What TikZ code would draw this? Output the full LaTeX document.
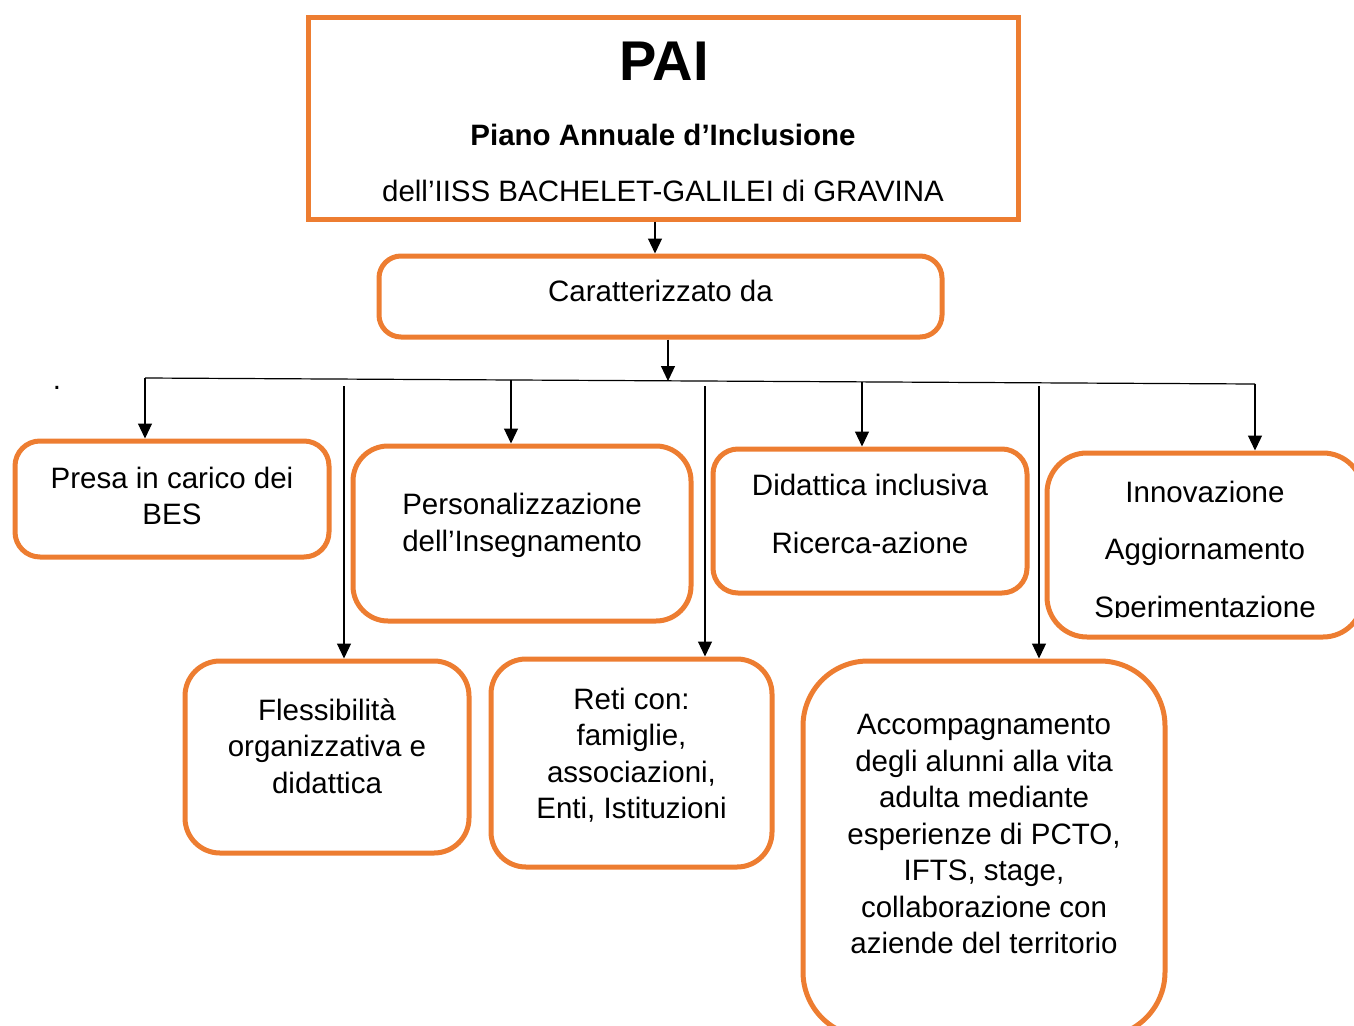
\documentclass[tikz,border=0pt]{standalone}
\usepackage{fontspec}
\setmainfont{Liberation Sans}
\usetikzlibrary{arrows.meta}
\definecolor{paiorange}{RGB}{237,125,49}
\tikzstyle{box}=[draw=paiorange, line width=5pt, rounded corners=25pt, inner sep=0pt]
\tikzstyle{txt}=[align=center, inner sep=0pt, font=\fontsize{29.5}{36.5}\selectfont]
\tikzstyle{link}=[line width=1.2pt, -{Triangle[length=15pt,width=14pt]}]

\begin{document}
\begin{tikzpicture}[x=1pt, y=-1pt]
  \clip (0,0) rectangle (1354,1025);
  % title
  \node[box, rounded corners=0pt, minimum width=710pt, minimum height=201pt] (pai) at (663,118.5) {};
  \node[anchor=base, inner sep=0pt, font=\fontsize{56}{64}\selectfont\bfseries] (painame) at (664,81) {PAI};
  \node[anchor=base, txt, font=\fontsize{29.5}{36}\selectfont\bfseries] (paifull) at (663,145) {Piano Annuale d’Inclusione};
  \node[anchor=base, txt] (paischool) at (663,201) {dell’IISS BACHELET-GALILEI di GRAVINA};
  \node[box, rounded corners=22pt, minimum width=563pt, minimum height=81pt] (carat) at (660.5,296.5) {};
  \node[txt] (carattext) at (660.5,290.5) {Caratterizzato da};
  \node[anchor=base, txt] (dot) at (57,389) {.};
  % boxes
  \node[box, minimum width=314pt, minimum height=116pt] (presa) at (172,499) {};
  \node[txt] (presatext) at (172,496) {Presa in carico dei\\BES};
  \node[box, rounded corners=35pt, minimum width=338pt, minimum height=175pt] (pers) at (522,533.5) {};
  \node[txt] (perstext) at (522,525.5) {Personalizzazione\\dell’Insegnamento};
  \node[box, minimum width=314pt, minimum height=144pt] (did) at (870,521) {};
  \node[txt] (didtext) at (870,514) {Didattica inclusiva\\[22pt]Ricerca-azione};
  \node[box, rounded corners=40pt, minimum width=316pt, minimum height=184pt] (inn) at (1205,545) {};
  \begin{scope}
    \clip (1050,455) rectangle (1354,617);
    \node[txt] (inntext) at (1205,552) {Innovazione\\[21pt]Aggiornamento\\[21pt]Sperimentazione};
  \end{scope}
  \node[box, rounded corners=35pt, minimum width=284pt, minimum height=192pt] (fles) at (327,757) {};
  \node[txt] (flestext) at (327,746) {Flessibilità\\organizzativa e\\didattica};
  \node[box, rounded corners=35pt, minimum width=281pt, minimum height=208pt] (reti) at (631.5,763) {};
  \node[txt] (retitext) at (631.5,755) {Reti con:\\famiglie,\\associazioni,\\Enti, Istituzioni};
  \node[box, rounded corners=65pt, minimum width=362pt, minimum height=376pt] (acc) at (984,849) {};
  \node[txt] (acctext) at (984,834) {Accompagnamento\\degli alunni alla vita\\adulta mediante\\esperienze di PCTO,\\IFTS, stage,\\collaborazione con\\aziende del territorio};
  % connectors
  \coordinate (p0) at (655,0);
  \draw[link] (pai.south -| p0) -- (carat.north -| p0);
  \coordinate (b0) at (668,381);
  \draw[link] (b0 |- carat.south) -- (b0);
  \coordinate (busl) at (145,378);
  \coordinate (busr) at (1255,384);
  \draw[line width=1.2pt] (busl) -- (busr);
  \coordinate (b1) at (145,378);
  \coordinate (b2) at (344,386);
  \coordinate (b3) at (511,380);
  \coordinate (b4) at (705,386);
  \coordinate (b5) at (862,382);
  \coordinate (b6) at (1039,386);
  \coordinate (b7) at (1255,384);
  \foreach \b/\n in {b1/presa, b2/fles, b3/pers, b4/reti, b5/did, b6/acc, b7/inn}
    \draw[link] (\b) -- (\b |- \n.north);
\end{tikzpicture}
\end{document}
